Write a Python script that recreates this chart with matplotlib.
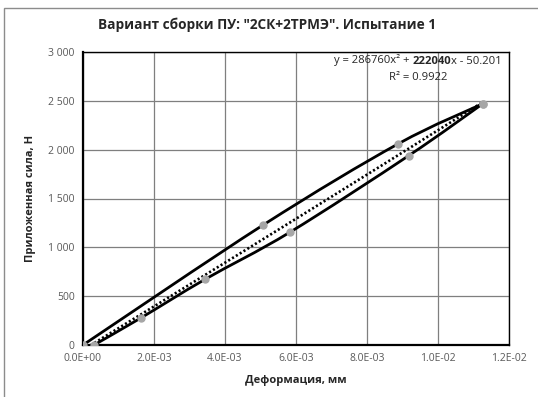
import numpy as np
import matplotlib
matplotlib.use("Agg")
import matplotlib.pyplot as plt
from matplotlib.path import Path
from matplotlib.patches import PathPatch, Rectangle

plt.rcParams['font.family'] = ['Open Sans', 'DejaVu Sans']

# ---- data ----
loading_x = [0.31e-3, 1.63e-3, 3.44e-3, 5.83e-3, 9.18e-3, 11.26e-3]
loading_y = [0, 277, 673, 1155, 1940, 2470]
unloading_x = [11.26e-3, 8.88e-3, 5.08e-3, 0.0]
unloading_y = [2470, 2060, 1230, 0]
trend_coef = [286760, 222040, -50.201]
x_ticks = [0, 0.002, 0.004, 0.006, 0.008, 0.010, 0.012]
x_tick_labels = ["0.0E+00", "2.0E-03", "4.0E-03", "6.0E-03", "8.0E-03", "1.0E-02", "1.2E-02"]
y_ticks = [0, 500, 1000, 1500, 2000, 2500, 3000]
y_tick_labels = ["0", "500", "1 000", "1 500", "2 000", "2 500", "3 000"]
title = 'Вариант сборки ПУ: "2СК+2ТРМЭ". Испытание 1'
x_label = "Деформация, мм"
y_label = "Приложенная сила, Н"

W, H = 538, 397
fig = plt.figure(figsize=(W / 100, H / 100), dpi=100)
ax = fig.add_axes([83 / W, 1 - 345 / H, (509 - 83) / W, (345 - 52) / H])


def smooth_path(xs, ys):
    p = np.column_stack([xs, ys]).astype(float)
    n = len(p)
    verts = [p[0]]
    codes = [Path.MOVETO]
    for i in range(n - 1):
        p0 = p[i - 1] if i > 0 else p[i]
        p1 = p[i]
        p2 = p[i + 1]
        p3 = p[i + 2] if i + 2 < n else p[i + 1]
        c1 = p1 + (p2 - p0) / 6.0
        c2 = p2 - (p3 - p1) / 6.0
        verts += [c1, c2, p2]
        codes += [Path.CURVE4] * 3
    return Path(verts, codes)


for xs, ys in [(loading_x, loading_y), (unloading_x, unloading_y)]:
    ax.add_patch(PathPatch(smooth_path(xs, ys), facecolor='none',
                           edgecolor='black', lw=2.0, zorder=3))
    ax.plot(xs, ys, 'o', color='#a6a6a6', markersize=5, linestyle='none', zorder=5)

all_x = loading_x + unloading_x
tx = np.linspace(min(all_x), max(all_x), 200)
ax.plot(tx, np.polyval(trend_coef, tx), color='black', lw=1.9,
        linestyle=(0, (0.8, 0.9)), zorder=4)

ax.set_xlim(0, 0.012)
ax.set_ylim(0, 3000)
ax.set_xticks(x_ticks)
ax.set_xticklabels(x_tick_labels)
ax.set_yticks(y_ticks)
ax.set_yticklabels(y_tick_labels)
ax.tick_params(length=0, labelsize=7.5, labelcolor='#595959', pad=6)
ax.grid(True, color='#7f7f7f', lw=0.9)
ax.set_axisbelow(True)
for s in ax.spines.values():
    s.set_color('black')
    s.set_linewidth(1.0)
ax.spines['left'].set_linewidth(1.6)
ax.spines['bottom'].set_linewidth(1.6)

fig.text(267 / W, 1 - 25 / H, title, ha='center', va='center',
         fontsize=9.8, fontweight='bold', color='#262626')
fig.text(296 / W, 1 - 380 / H, x_label, ha='center', va='center',
         fontsize=8, fontweight='bold', color='#262626')
fig.text(31 / W, 1 - 198 / H, y_label, ha='center', va='center', rotation=90,
         fontsize=8, fontweight='bold', color='#262626')

# trendline equation
eq_fs = 8.1
t3 = fig.text(502 / W, 1 - 61 / H, "x - 50.201", ha='right', va='center',
              fontsize=eq_fs, color='#262626')
t2 = ax.annotate("222040", xy=(0, 0), xycoords=t3, ha='right', va='bottom',
                 fontsize=eq_fs, fontweight='bold', color='#262626')
t1 = ax.annotate("y = 286760x² + ", xy=(0, 0), xycoords=t2, ha='right', va='bottom',
                 fontsize=eq_fs, color='#262626')
fig.text(418 / W, 1 - 77 / H, "R² = 0.9922", ha='center', va='center',
         fontsize=eq_fs, color='#262626')

fig.patches.append(Rectangle((4 / W, -0.05), 1.1, 1 - 8 / H + 0.05,
                             transform=fig.transFigure, fill=False,
                             edgecolor='#8c8c8c', lw=1.0))

fig.savefig("out.png", dpi=100)
